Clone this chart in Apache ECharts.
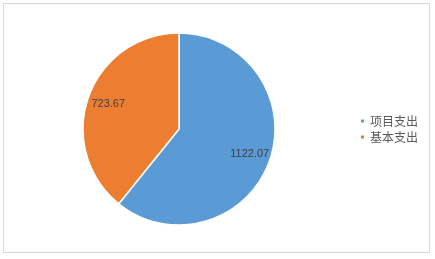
<!DOCTYPE html>
<html><head><meta charset="utf-8">
<script src="https://cdn.jsdelivr.net/npm/echarts@6/dist/echarts.min.js"></script>
<style>html,body{margin:0;padding:0;background:#fff}#c{width:435px;height:259px}</style>
</head><body><div id="c"></div>
<script>
var categories = ['项目支出', '基本支出'];
var values = [1122.07, 723.67];
var colors = ['#5B9BD5', '#ED7D31'];

var data = categories.map(function (n, i) { return { name: n, value: values[i] }; });
var chart = echarts.init(document.getElementById('c'), null, { renderer: 'canvas' });
chart.setOption({
  animation: false,
  backgroundColor: '#fff',
  color: colors,
  graphic: [{ type: 'rect', shape: { x: 3.5, y: 3.5, width: 426, height: 249 }, style: { fill: 'none', stroke: '#d9d9d9', lineWidth: 1 }, z: -1 }],
  legend: {
    orient: 'vertical', left: 354, top: 110, padding: 5, itemWidth: 5, itemHeight: 5, itemGap: 4,
    icon: 'rect', data: categories,
    textStyle: { fontFamily: 'Noto Sans CJK SC', fontSize: 12, color: '#595959' }
  },
  series: [{
    type: 'pie', center: [179, 129], radius: [0, 96], startAngle: 90, clockwise: true,
    data: data, label: { show: false }, labelLine: { show: false }, silent: true,
    itemStyle: { borderColor: '#fff', borderWidth: 1.5 }
  }, {
    type: 'pie', center: [179, 129], radius: [0, 144], startAngle: 90, clockwise: true,
    data: data, silent: true, legendHoverLink: false,
    itemStyle: { color: 'rgba(0,0,0,0)', borderWidth: 0 },
    label: { show: true, position: 'inside', formatter: function (p) { return p.value.toFixed(2); },
      fontFamily: 'Liberation Sans', fontSize: 11, color: '#404040' },
    labelLine: { show: false }
  }]
});
</script></body></html>
